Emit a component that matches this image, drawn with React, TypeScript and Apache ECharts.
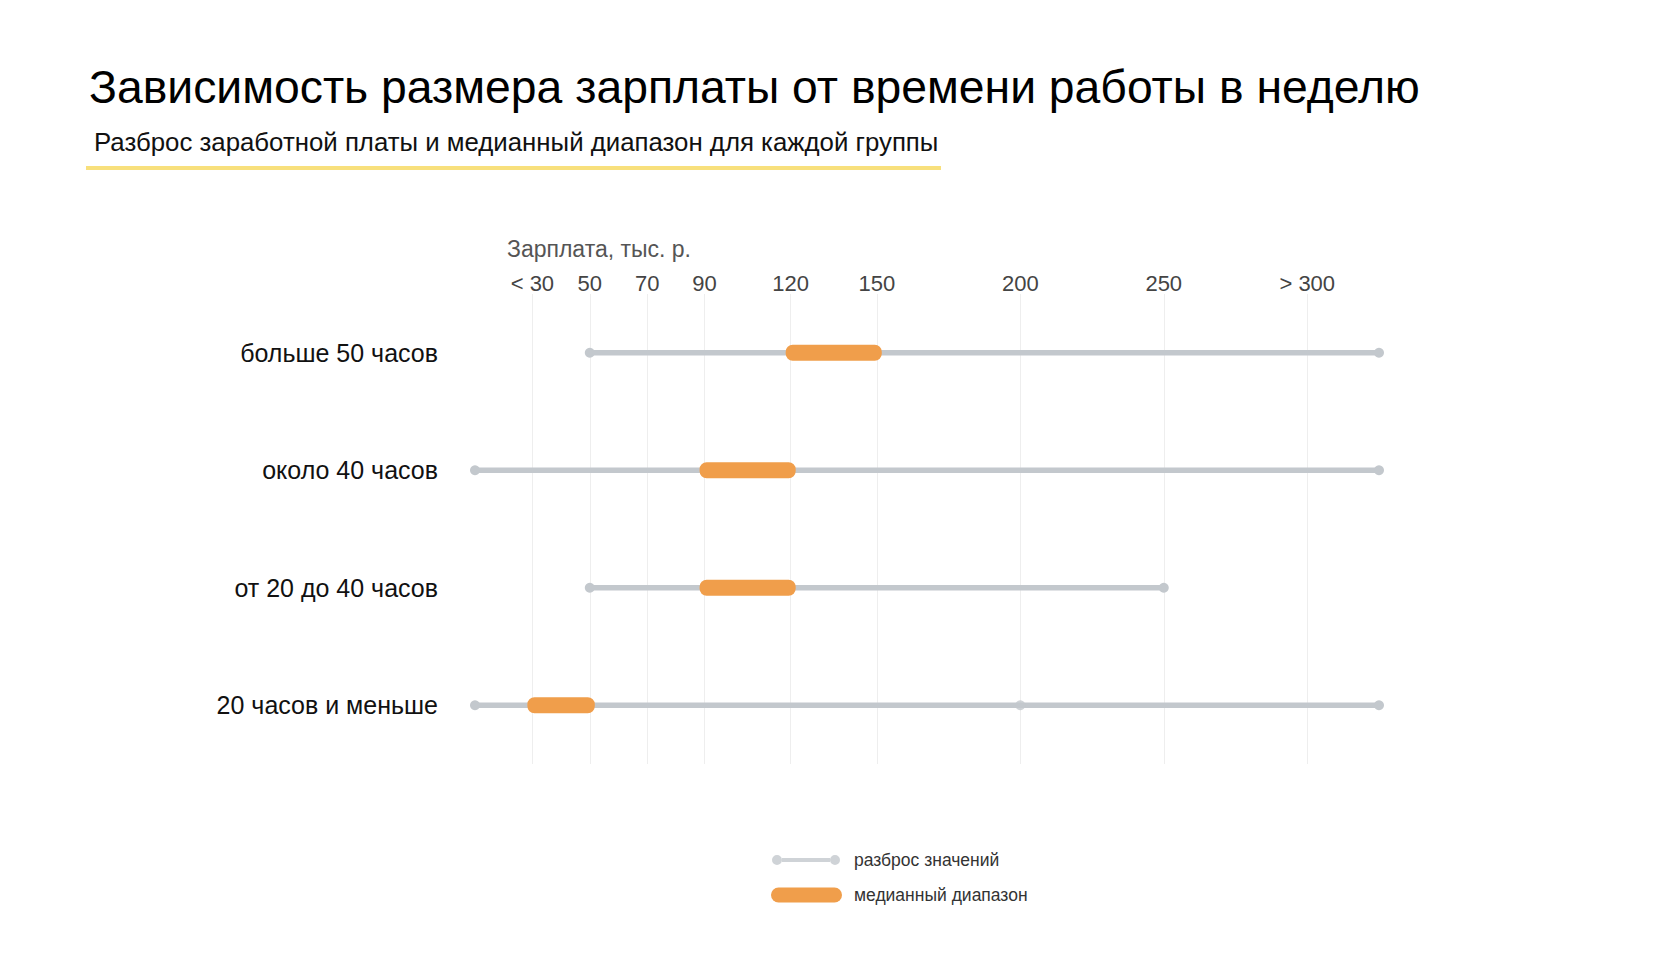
import React, { useEffect, useRef } from "react";
import * as echarts from "echarts";

const categories = ["больше 50 часов", "около 40 часов", "от 20 до 40 часов", "20 часов и меньше"];
const rangeLow = [50, 10, 50, 10];
const rangeHigh = [325, 325, 250, 325];
const medianLow = [120, 90, 90, 30];
const medianHigh = [150, 120, 120, 50];
const extraPoints: [number, number][] = [[200, 3]];
const tickValues = [30, 50, 70, 90, 120, 150, 200, 250, 300];
const tickLabels = ["< 30", "50", "70", "90", "120", "150", "200", "250", "> 300"];

const GRAY = "#C3C8CD";
const ORANGE = "#F09E4B";
const FONT = "'Liberation Sans', Arial, Helvetica, sans-serif";

export default function App() {
  const ref = useRef<HTMLDivElement>(null);
  useEffect(() => {
    if (!ref.current) return;
    const chart = echarts.init(ref.current, null, { renderer: "svg" });
    const rangeData = categories.map((_, i) => [i, rangeLow[i], rangeHigh[i]]);
    const medianData = categories.map((_, i) => [i, medianLow[i], medianHigh[i]]);
    chart.setOption({
      animation: false,
      backgroundColor: "#ffffff",
      textStyle: { fontFamily: FONT },
      title: [
        {
          text: "Зависимость размера зарплаты от времени работы в неделю",
          left: 89,
          top: 64,
          padding: 0,
          textStyle: { fontSize: 46.3, fontWeight: "normal", color: "#000", fontFamily: FONT },
        },
        {
          text: "Разброс заработной платы и медианный диапазон для каждой группы",
          left: 94,
          top: 129,
          padding: 0,
          textStyle: { fontSize: 25.8, fontWeight: "normal", color: "#111", fontFamily: FONT },
        },
      ],
      graphic: [
        { type: "rect", shape: { x: 86, y: 166, width: 855, height: 4 }, style: { fill: "#F8E07C" } },
        {
          type: "text",
          left: 507,
          top: 237,
          style: { text: "Зарплата, тыс. р.", fontSize: 23, fill: "#555", fontFamily: FONT },
        },
      ],
      legend: [
        {
          data: [
            {
              name: "разброс значений",
              icon: "path://M10,3 L58,3 L58,7 L10,7 Z M0,5 A5,5 0 1,1 10,5 A5,5 0 1,1 0,5 Z M58,5 A5,5 0 1,1 68,5 A5,5 0 1,1 58,5 Z",
              itemStyle: { color: GRAY },
            },
          ],
          selectedMode: false,
          left: 772,
          top: 851,
          itemWidth: 68,
          itemHeight: 10,
          padding: 0,
          textStyle: { fontSize: 17.5, color: "#333", fontFamily: FONT, padding: [0, 0, 0, 9] },
        },
        {
          data: [
            {
              name: "медианный диапазон",
              icon: "path://M7.5,0 L63.5,0 A7.5,7.5 0 0,1 63.5,15 L7.5,15 A7.5,7.5 0 0,1 7.5,0 Z",
              itemStyle: { color: ORANGE },
            },
          ],
          selectedMode: false,
          left: 771,
          top: 886,
          itemWidth: 71,
          itemHeight: 15,
          padding: 0,
          textStyle: { fontSize: 17.5, color: "#333", fontFamily: FONT, padding: [0, 0, 0, 7] },
        },
      ],
      grid: { left: 475, right: 301, top: 294, height: 470, outerBoundsMode: "none" },
      xAxis: {
        type: "value",
        position: "top",
        min: 10,
        max: 325,
        axisLine: { show: false },
        axisTick: { show: false },
        splitLine: { show: false },
        axisLabel: {
          customValues: tickValues,
          margin: 0,
          fontSize: 22,
          color: "#444",
          fontFamily: FONT,
          formatter: (v: number) => {
            const i = tickValues.indexOf(v);
            return i >= 0 ? tickLabels[i] : "";
          },
        },
      },
      yAxis: {
        type: "category",
        inverse: true,
        data: categories,
        axisLine: { show: false },
        axisTick: { show: false },
        splitLine: { show: false },
        axisLabel: { margin: 37, fontSize: 25, color: "#111", fontFamily: FONT },
      },
      series: [
        {
          name: "разброс значений",
          type: "scatter",
          data: extraPoints,
          symbolSize: 10,
          itemStyle: { color: GRAY },
          z: 3,
          markLine: {
            silent: true,
            symbol: "none",
            label: { show: false },
            lineStyle: { color: "#EEEEEE", width: 1, type: "solid" },
            z: 1,
            data: tickValues.map((v) => ({ xAxis: v })),
          },
        },
        {
          name: "разброс значений",
          type: "custom",
          clip: false,
          z: 2,
          itemStyle: { color: GRAY },
          encode: { x: [1, 2], y: 0 },
          data: rangeData,
          renderItem: (params: any, api: any) => {
            const cat = api.value(0);
            const p1 = api.coord([api.value(1), cat]);
            const p2 = api.coord([api.value(2), cat]);
            return {
              type: "group",
              children: [
                { type: "line", shape: { x1: p1[0], y1: p1[1], x2: p2[0], y2: p2[1] }, style: { stroke: GRAY, lineWidth: 5.5 } },
                { type: "circle", shape: { cx: p1[0], cy: p1[1], r: 5 }, style: { fill: GRAY } },
                { type: "circle", shape: { cx: p2[0], cy: p2[1], r: 5 }, style: { fill: GRAY } },
              ],
            };
          },
        },
        {
          name: "медианный диапазон",
          type: "custom",
          clip: false,
          z: 4,
          itemStyle: { color: ORANGE },
          encode: { x: [1, 2], y: 0 },
          data: medianData,
          renderItem: (params: any, api: any) => {
            const cat = api.value(0);
            const p1 = api.coord([api.value(1), cat]);
            const p2 = api.coord([api.value(2), cat]);
            const h = 16;
            const ext = 5;
            return {
              type: "rect",
              shape: { x: p1[0] - ext, y: p1[1] - h / 2, width: p2[0] - p1[0] + 2 * ext, height: h, r: 7 },
              style: { fill: ORANGE },
            };
          },
        },
      ],
    });
    return () => chart.dispose();
  }, []);
  return <div ref={ref} style={{ position: "fixed", left: 0, top: 0, width: 1680, height: 976 }} />;
}
